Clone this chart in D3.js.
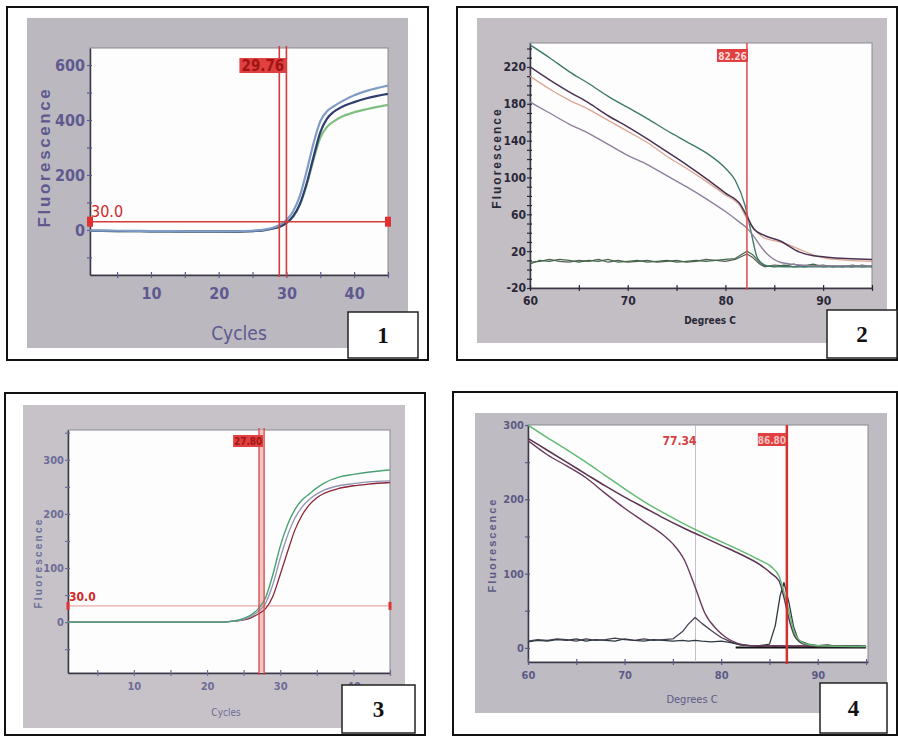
<!DOCTYPE html>
<html><head><meta charset="utf-8">
<script src="https://cdn.jsdelivr.net/npm/d3@7/dist/d3.min.js"></script>
<style>body{margin:0;background:#fff}svg{display:block}</style>
</head><body>
<svg id="c" width="898" height="736"></svg>
<script>
// ---------- Panel 1 : amplification (Cycles) ----------
const p1Cycles = [1,5,10,15,20,25,27,28,29,30,31,32,33,34,35,36,37,38,40,42,45];
const p1Blue  = [-2,-3,-4,-5,-5,-3,2,8,18,36,68,125,215,315,395,432,450,465,490,507,525];
const p1Navy  = [-3,-4,-5,-6,-6,-4,0,5,12,26,50,95,170,265,355,405,430,445,465,480,495];
const p1Green = [-3,-4,-5,-6,-6,-4,0,5,12,25,48,92,165,255,335,375,395,410,428,440,455];
const p1Threshold = 30.0;
const p1CtLines = [28.95, 30.0];
const p1CtLabel = "29.76";
const p1YTicks = [-100,0,100,200,300,400,500,600];
const p1YLabels = [0,200,400,600];
const p1XTicks = [5,10,15,20,25,30,35,40,45];
const p1XLabels = [10,20,30,40];

// ---------- Panel 2 : melt curve (Degrees C) ----------
const p2Temps  = [60,62,64,66,68,70,72,74,76,78,80,81,82,82.6,83.3,84.3,86,90,95];
const p2Teal   = [244,230,215,202,188,176,164,151,139,127,110,97,70,42,12,4,3,3,3];
const p2TempsB = [60,62,64,66,68,70,72,74,76,78,80,81.5,82.2,82.9,84,85.6,87.6,89,90.4,95];
const p2Purple = [220,206,193,181,167,155,142,128,114,99,83,71,58,44,37,31,19,15,13.5,11];
const p2Pink   = [210,196,184,174,162,150,138,123,110,96,81,69,55,45,34,30,22,16,12,9];
const p2Mauve  = [182,170,158,148,136,124,114,102,90,77,63,51,45,36,20,8,5,4,4,4];
const p2DerivTemps = [60,61,62,63,64,65,66,67,68,69,70,71,72,73,74,75,76,77,78,79,80,81,81.6,82.2,82.8,83.5,84,85,86,87,88,89,90,91,92,93,94,95];
const p2DerivA = [6,10,9,11,10,8,10,9,11,8,9,10,8,9,10,8,9,10,9,10,11,12,16,20,16,8,4,3,5,3,4,6,3,4,3,5,3,4];
const p2DerivB = [8,9,11,9,8,10,9,11,8,10,8,9,10,8,9,10,8,9,11,10,9,11,14,17,13,6,3,5,4,6,3,4,5,3,4,3,5,3];
const p2MeltLine = 82.2;
const p2MeltLabel = "82.26";
const p2YTicks = d3.range(-20, 241, 10);
const p2YLabels = [-20,20,60,100,140,180,220];
const p2XTicks = [60,65,70,75,80,85,90,95];
const p2XLabels = [60,70,80,90];

// ---------- Panel 3 : amplification (Cycles) ----------
const p3Cycles = [1,5,10,15,20,22,23,24,25,26,27,28,29,30,31,32,33,34,35,36,38,40,42,45];
const p3Green = [0,0,0,0,0,0,1,3,7,13,25,45,88,140,180,208,226,237,248,257,268,273,277,281];
const p3Grey  = [0,0,0,0,0,0,1,2,5,10,20,35,70,118,160,192,213,227,237,244,252,256,259,261];
const p3Red   = [0,0,0,0,0,0,1,2,4,8,15,25,48,88,130,170,198,217,230,238,247,252,255,258];
const p3Threshold = 30.0;
const p3CtLines = [27.1, 27.8];
const p3CtLabel = "27.80";
const p3YTicks = [-50,0,50,100,150,200,250,300,350];
const p3YLabels = [0,100,200,300];
const p3XTicks = [5,10,15,20,25,30,35,40,45];
const p3XLabels = [10,20,30,40];

// ---------- Panel 4 : melt curve (Degrees C) ----------
const p4Temps = [60,62,64,66,68,70,72,74,76,78,80,82,84,85.2,86,86.5,87,87.6,88.6,90,95];
const p4Green  = [300,283,267,250,232,214,197,182,168,155,143,131,118,109,96,75,50,20,6,3,2];
const p4Purple = [282,266,250,234,218,203,189,175,162,150,138,126,112,100,90,68,40,16,5,2,2];
const p4TempsB = [60,62,64,66,68,70,72,74,75,76.2,77.3,78.3,79.6,80.5,81.7,83,95];
const p4Mauve  = [279,260,245,229,208,188,170,152,140,118,82,47,24,14,6,3,2];
const p4DerivTemps = [60,61,62,63,64,65,66,67,68,69,70,71,72,73,74,75,76,76.6,77.3,78,79,80,81,82,83,84,85,85.6,86.1,86.5,87,87.5,88,89,90,91,92,93,94,95];
const p4DerivA = [9,11,10,12,11,9,12,10,11,13,11,10,12,10,11,12,22,32,41,33,23,14,8,4,3,2,3,2,3,2,3,2,3,2,3,2,3,2,3,2];
const p4DerivB = [8,10,9,11,10,12,9,11,10,9,12,10,9,11,10,9,10,9,10,9,8,9,7,4,3,3,5,30,70,88,62,28,10,5,3,4,2,3,2,2];
const p4BaseTemps = [81.5, 95];
const p4Base = [0.5, 0.5];
const p4PeakLines = [77.34, 86.8];
const p4PeakLabels = ["77.34", "86.80"];
const p4YTicks = [0,50,100,150,200,250,300];
const p4YLabels = [0,100,200,300];
const p4XTicks = [60,65,70,75,80,85,90,95];
const p4XLabels = [60,70,80,90];

const svg = d3.select('#c');
const NARROW = '"Liberation Sans Narrow","Arial Narrow","DejaVu Sans Condensed",sans-serif';
const RED = '#d63a3a';

function zip(xs, ys){ return xs.map((x,i)=>[x, ys[i]]); }

function panel(cfg){
  const g = svg.append('g');
  g.append('rect').attr('x',cfg.frame[0]).attr('y',cfg.frame[1])
    .attr('width',cfg.frame[2]-cfg.frame[0]).attr('height',cfg.frame[3]-cfg.frame[1])
    .attr('fill','#fff').attr('stroke','#111').attr('stroke-width',2);
  g.append('rect').attr('x',cfg.grey[0]).attr('y',cfg.grey[1])
    .attr('width',cfg.grey[2]-cfg.grey[0]).attr('height',cfg.grey[3]-cfg.grey[1])
    .attr('fill',cfg.greyColor);
  const [px0,py0,px1,py1] = cfg.plot;
  g.append('rect').attr('x',px0).attr('y',py0).attr('width',px1-px0).attr('height',py1-py0)
    .attr('fill','#fdfdfd').attr('stroke','#8a8890').attr('stroke-width',1);
  const x = d3.scaleLinear().domain(cfg.xDomain).range([px0,px1]);
  const y = d3.scaleLinear().domain(cfg.yDomain).range([py1,py0]);

  const yAxis = g.append('g').attr('transform',`translate(${px0},0)`)
    .call(d3.axisLeft(y).tickValues(cfg.yTicks).tickSize(4).tickSizeOuter(0)
      .tickFormat(d => cfg.yLabels.includes(d) ? d : ''));
  const xAxis = g.append('g').attr('transform',`translate(0,${py1})`)
    .call(d3.axisBottom(x).tickValues(cfg.xTicks).tickSize(4).tickSizeOuter(0)
      .tickFormat(d => cfg.xLabels.includes(d) ? d : ''));
  [yAxis,xAxis].forEach(a=>{
    a.select('.domain').attr('stroke','#3a3848').attr('stroke-width',1.5);
    a.selectAll('.tick line').attr('stroke',cfg.tickColor).attr('stroke-width',1.2);
    a.selectAll('text').attr('fill',cfg.tickColor).style('font-family',NARROW)
      .style('font-size',cfg.tickFont+'px').style('font-weight','bold');
  });
  yAxis.selectAll('.tick line').attr('x1',-3).attr('x2',2);
  xAxis.selectAll('.tick line').attr('y1',-3).attr('y2',3);
  yAxis.selectAll('text').attr('x',cfg.yLabelDx);
  xAxis.selectAll('text').attr('y',cfg.xLabelDy);

  g.append('text').attr('transform',`translate(${cfg.yTitle[0]},${cfg.yTitle[1]}) rotate(-90)`)
    .attr('text-anchor','middle').attr('fill',cfg.tickColor)
    .style('font-family','"Liberation Sans",Arial,sans-serif').style('font-weight','bold')
    .style('font-size',cfg.yTitle[2]+'px').style('letter-spacing',cfg.yTitle[3]+'px')
    .text('Fluorescence');
  g.append('text').attr('x',cfg.xTitle[0]).attr('y',cfg.xTitle[1]).attr('text-anchor','middle')
    .attr('fill',cfg.tickColor).style('font-family',NARROW).style('font-weight',cfg.xTitle[3]||'normal')
    .style('font-size',cfg.xTitle[2]+'px').text(cfg.xTitleText);

  const cid = 'clip'+cfg.num;
  g.append('clipPath').attr('id',cid).append('rect').attr('x',px0).attr('y',py0)
    .attr('width',px1-px0).attr('height',py1-py0);
  const plotG = g.append('g').attr('clip-path',`url(#${cid})`);
  if (cfg.under) cfg.under(plotG, x, y);
  cfg.series.forEach(s=>{
    const line = d3.line().x(d=>x(d[0])).y(d=>y(d[1]))
      .curve(s.noisy ? d3.curveLinear : d3.curveMonotoneX);
    plotG.append('path').attr('d',line(zip(s.xs,s.ys))).attr('fill','none')
      .attr('stroke',s.color).attr('stroke-width',s.w||1.4).attr('stroke-linejoin','round');
  });
  if (cfg.over) cfg.over(g, x, y);

  const b = cfg.box;
  g.append('rect').attr('x',b[0]).attr('y',b[1]).attr('width',b[2]-b[0]).attr('height',b[3]-b[1])
    .attr('fill','#fff').attr('stroke','#222').attr('stroke-width',1.5);
  g.append('text').attr('x',(b[0]+b[2])/2).attr('y',(b[1]+b[3])/2+8).attr('text-anchor','middle')
    .style('font-family','"Liberation Serif","Times New Roman",serif').style('font-weight','bold')
    .style('font-size','23px').attr('fill','#111').text(cfg.num);
  return {x,y};
}

function ctLabel(g, xRight, yTop, w, h, txt, textColor, size){
  g.append('rect').attr('x',xRight-w).attr('y',yTop).attr('width',w).attr('height',h).attr('fill','#e04040');
  g.append('text').attr('x',xRight-w/2).attr('y',yTop+h-2.5).attr('text-anchor','middle')
    .attr('fill',textColor).style('font-family',NARROW).style('font-weight','bold')
    .style('font-size',size+'px').text(txt);
}

// ---- Panel 1
panel({
  num:'1', frame:[7,7,428,360], grey:[27,18,408,348], greyColor:'#bcb8c0',
  plot:[90,48,388,275], xDomain:[1,45], yDomain:[-164,662],
  yTicks:p1YTicks, yLabels:p1YLabels, xTicks:p1XTicks, xLabels:p1XLabels,
  tickColor:'#5e5a90', tickFont:16, yLabelDx:-5, xLabelDy:13,
  yTitle:[50,157,17,2.6], xTitle:[239,340,19], xTitleText:'Cycles',
  box:[348,312,418,358],
  series:[
    {xs:p1Cycles, ys:p1Green, color:'#7fbf7f', w:2.2},
    {xs:p1Cycles, ys:p1Navy, color:'#2e3c6e', w:2.2},
    {xs:p1Cycles, ys:p1Blue, color:'#7f9cc4', w:2.2}
  ],
  over:(g,x,y)=>{
    g.append('line').attr('x1',x(1)).attr('x2',x(45)).attr('y1',y(p1Threshold)).attr('y2',y(p1Threshold))
      .attr('stroke',RED).attr('stroke-width',1.6);
    [1,45].forEach(v=>g.append('rect').attr('x',x(v)-3).attr('y',y(p1Threshold)-5).attr('width',6).attr('height',10).attr('fill','#e03030'));
    g.append('text').attr('x',x(1)+1).attr('y',y(p1Threshold)-5).attr('fill','#d02828')
      .style('font-family',NARROW).style('font-size','16px').text(p1Threshold.toFixed(1));
    p1CtLines.forEach(v=>g.append('line').attr('x1',x(v)).attr('x2',x(v)).attr('y1',46).attr('y2',277)
      .attr('stroke',RED).attr('stroke-width',1.6));
    ctLabel(g, x(p1CtLines[1]), 58, 47, 15, p1CtLabel, '#a01414', 15);
  }
});

// ---- Panel 2
panel({
  num:'2', frame:[457,7,897,360], grey:[477,18,887,343], greyColor:'#c2bec4',
  plot:[530,43,872,288], xDomain:[60,95], yDomain:[-20,246],
  yTicks:p2YTicks, yLabels:p2YLabels, xTicks:p2XTicks, xLabels:p2XLabels,
  tickColor:'#2a2838', tickFont:12, yLabelDx:-4, xLabelDy:8,
  yTitle:[501,158,12,2], xTitle:[710,324,10,'bold'], xTitleText:'Degrees C',
  box:[827,310,897,358],
  series:[
    {xs:p2DerivTemps, ys:p2DerivB, color:'#5a5a58', noisy:true, w:1.2},
    {xs:p2DerivTemps, ys:p2DerivA, color:'#3d6a45', noisy:true, w:1.2},
    {xs:p2Temps, ys:p2Teal, color:'#3f7a6a', w:1.4},
    {xs:p2TempsB, ys:p2Pink, color:'#dba692', w:1.3},
    {xs:p2TempsB, ys:p2Purple, color:'#4a3252', w:1.5},
    {xs:p2TempsB, ys:p2Mauve, color:'#8f7f9c', w:1.4}
  ],
  over:(g,x,y)=>{
    g.append('line').attr('x1',x(p2MeltLine)).attr('x2',x(p2MeltLine)).attr('y1',43).attr('y2',290)
      .attr('stroke','#e04a4a').attr('stroke-width',1.5);
    ctLabel(g, x(p2MeltLine)+1, 49, 31, 13, p2MeltLabel, '#ffd8d8', 10);
  }
});

// ---- Panel 3
panel({
  num:'3', frame:[5,393,425,735], grey:[23,405,405,728], greyColor:'#c6c2c8',
  plot:[68,430,390,673], xDomain:[1,45], yDomain:[-94,355],
  yTicks:p3YTicks, yLabels:p3YLabels, xTicks:p3XTicks, xLabels:p3XLabels,
  tickColor:'#6e6c98', tickFont:11, yLabelDx:-4, xLabelDy:9,
  yTitle:[42,563,10,2.2], xTitle:[226,716,10], xTitleText:'Cycles',
  box:[342,685,415,733],
  under:(pg,x,y)=>{
    pg.append('rect').attr('x',x(p3CtLines[0])).attr('y',430).attr('width',x(p3CtLines[1])-x(p3CtLines[0]))
      .attr('height',243).attr('fill','#f3c4c4');
    pg.append('line').attr('x1',x(1)).attr('x2',x(45)).attr('y1',y(p3Threshold)).attr('y2',y(p3Threshold))
      .attr('stroke','#eeaaaa').attr('stroke-width',1.2);
  },
  series:[
    {xs:p3Cycles, ys:p3Red, color:'#8a2436', w:1.3},
    {xs:p3Cycles, ys:p3Grey, color:'#8f94b4', w:1.3},
    {xs:p3Cycles, ys:p3Green, color:'#4aa274', w:1.4}
  ],
  over:(g,x,y)=>{
    p3CtLines.forEach(v=>g.append('line').attr('x1',x(v)).attr('x2',x(v)).attr('y1',428).attr('y2',675)
      .attr('stroke','#d84848').attr('stroke-width',1.3));
    [1,45].forEach(v=>g.append('rect').attr('x',x(v)-1.5).attr('y',y(p3Threshold)-4).attr('width',3).attr('height',8).attr('fill','#e03030'));
    g.append('text').attr('x',x(1)+1).attr('y',y(p3Threshold)-5).attr('fill','#d02828')
      .style('font-family',NARROW).style('font-weight','bold').style('font-size','12px').text(p3Threshold.toFixed(1));
    ctLabel(g, x(p3CtLines[1])-1, 435, 30, 12, p3CtLabel, '#a01818', 10);
  }
});

// ---- Panel 4
panel({
  num:'4', frame:[453,392,897,735], grey:[475,413,887,713], greyColor:'#bfbbc2',
  plot:[528,425,868,662], xDomain:[60,95.2], yDomain:[-19,300],
  yTicks:p4YTicks, yLabels:p4YLabels, xTicks:p4XTicks, xLabels:p4XLabels,
  tickColor:'#5c5a86', tickFont:11, yLabelDx:-4, xLabelDy:9,
  yTitle:[496,545,11,2], xTitle:[692,703,11], xTitleText:'Degrees C',
  box:[820,683,887,733],
  under:(pg,x,y)=>{
    pg.append('line').attr('x1',x(p4PeakLines[0])).attr('x2',x(p4PeakLines[0])).attr('y1',425).attr('y2',662)
      .attr('stroke','#c4c2c8').attr('stroke-width',1);
  },
  series:[
    {xs:p4DerivTemps, ys:p4DerivA, color:'#4a4054', noisy:true, w:1.3},
    {xs:p4DerivTemps, ys:p4DerivB, color:'#2e3a40', noisy:true, w:1.3},
    {xs:p4BaseTemps, ys:p4Base, color:'#151515', noisy:true, w:1.8},
    {xs:p4TempsB, ys:p4Mauve, color:'#6a3a5e', w:1.4},
    {xs:p4Temps, ys:p4Purple, color:'#5a3450', w:1.5},
    {xs:p4Temps, ys:p4Green, color:'#62bb74', w:1.5}
  ],
  over:(g,x,y)=>{
    g.append('line').attr('x1',x(p4PeakLines[1])).attr('x2',x(p4PeakLines[1])).attr('y1',425).attr('y2',664)
      .attr('stroke','#d43030').attr('stroke-width',2.5);
    g.append('text').attr('x',x(p4PeakLines[0])-16).attr('y',445).attr('text-anchor','middle')
      .attr('fill','#d84040').style('font-family',NARROW).style('font-weight','bold')
      .style('font-size','12px').text(p4PeakLabels[0]);
    ctLabel(g, x(p4PeakLines[1])-1, 433, 28, 13, p4PeakLabels[1], '#f0c0c0', 10);
  }
});
</script>
</body></html>
